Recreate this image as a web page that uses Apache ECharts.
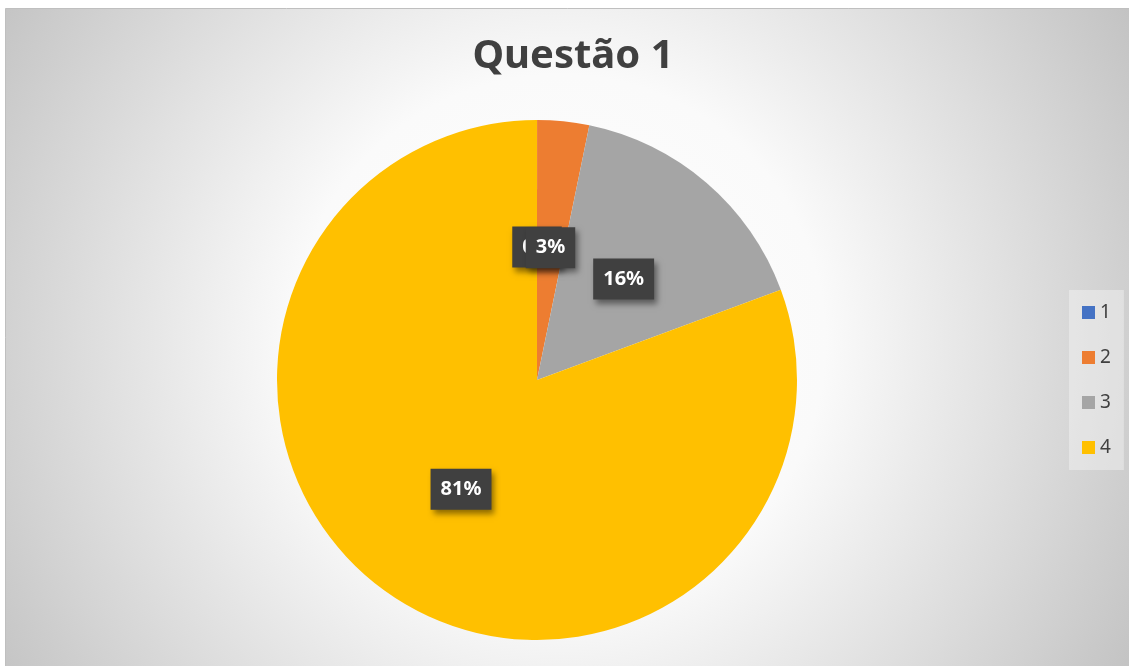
<!DOCTYPE html>
<html>
<head>
<meta charset="utf-8">
<script src="https://cdn.jsdelivr.net/npm/echarts@6/dist/echarts.min.js"></script>
<style>
html,body{margin:0;padding:0;background:#ffffff;}
#chart{width:1129px;height:666px;}
</style>
</head>
<body>
<div id="chart"></div>
<script>
const titleText = 'Questão 1';
const categories = ['1', '2', '3', '4'];
const values = [0, 1, 5, 25];
const colors = ['#4472C4', '#ED7D31', '#A5A5A5', '#FFC000'];

const chart = echarts.init(document.getElementById('chart'), null, {renderer: 'canvas'});
const font = '"Noto Sans", "Open Sans", sans-serif';

const option = {
  animation: false,
  backgroundColor: '#ffffff',
  color: colors,
  graphic: [{
    type: 'rect',
    z: -10,
    silent: true,
    shape: {x: 5.5, y: 8.5, width: 1130, height: 665},
    style: {
      fill: {
        type: 'radial', x: 0.49, y: 0.5, r: 1.0,
        colorStops: [
          {offset: 0, color: '#ffffff'},
          {offset: 0.4, color: '#fafafa'},
          {offset: 1, color: '#c2c2c2'}
        ]
      },
      stroke: '#bfbfbf',
      lineWidth: 1
    }
  }],
  title: {
    text: titleText,
    left: 573,
    textAlign: 'center',
    top: 37,
    padding: 0,
    textStyle: {
      fontFamily: font,
      fontSize: 40,
      fontWeight: 'bold',
      color: '#404040'
    }
  },
  legend: {
    orient: 'vertical',
    left: 1069,
    top: 290,
    padding: [13, 13, 13, 13],
    itemWidth: 13,
    itemHeight: 13,
    itemGap: 26,
    icon: 'rect',
    backgroundColor: 'rgba(255,255,255,0.35)',
    textStyle: {
      fontFamily: font,
      fontSize: 19,
      lineHeight: 19,
      color: '#404040'
    },
    data: categories
  },
  series: [{
    type: 'pie',
    center: [537, 380],
    radius: [0, 260],
    startAngle: 90,
    clockwise: true,
    avoidLabelOverlap: false,
    minAngle: 0.01,
    minShowLabelAngle: 0,
    labelLayout: {hideOverlap: false},
    itemStyle: {borderWidth: 0},
    label: {
      show: true,
      position: 'inside',
      formatter: p => Math.round(p.percent) + '%',
      fontFamily: font,
      fontSize: 20,
      lineHeight: 22,
      fontWeight: 'bold',
      color: '#ffffff',
      backgroundColor: '#404040',
      padding: [10, 10, 9, 10],
      shadowColor: 'rgba(0,0,0,0.45)',
      shadowBlur: 6,
      shadowOffsetX: 3,
      shadowOffsetY: 4
    },
    labelLine: {show: false},
    emphasis: {disabled: true},
    data: categories.map((c, i) => ({name: c, value: values[i]}))
  }]
};
chart.setOption(option);
</script>
</body>
</html>
